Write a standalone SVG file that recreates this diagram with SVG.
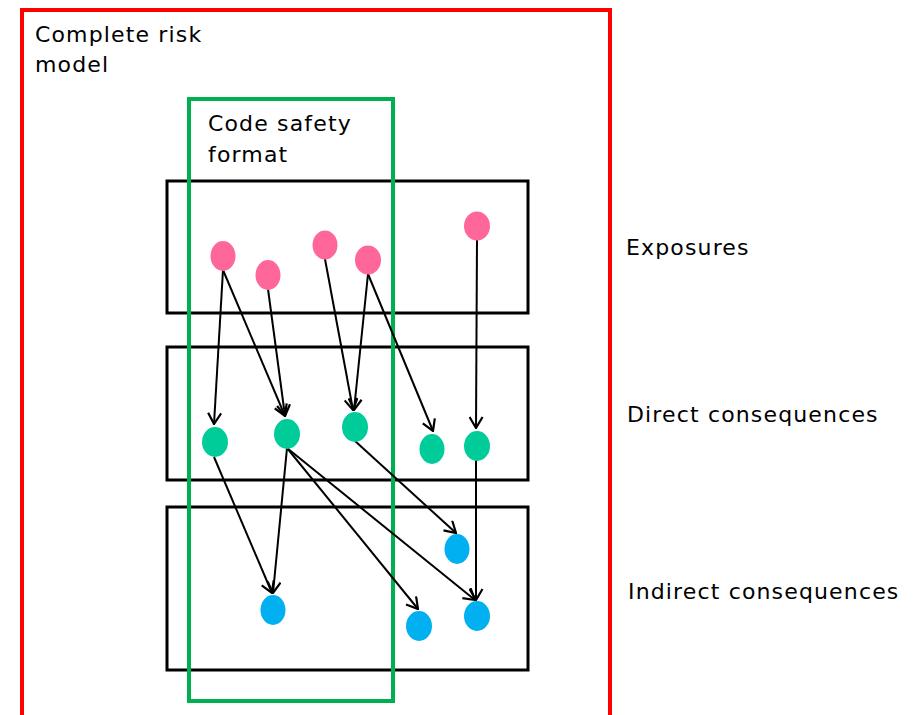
<svg xmlns="http://www.w3.org/2000/svg" width="916" height="715" viewBox="0 0 916 715">
<style>
.lbl{font-family:"DejaVu Sans",Verdana,sans-serif;font-size:22px;letter-spacing:1.15px;fill:#000}
.layer{fill:none;stroke:#000;stroke-width:3}
.pink{fill:#FF6699}
.green{fill:#00CC99}
.blue{fill:#00B0F0}
.conn line{stroke:#000;stroke-width:2;marker-end:url(#arr)}
</style>
<defs>
<marker id="arr" markerUnits="userSpaceOnUse" viewBox="0 0 13 15" markerWidth="13" markerHeight="15" refX="12" refY="7.5" orient="auto">
<path d="M1,1 L12,7.5 L1,14" fill="none" stroke="#000" stroke-width="2.2"/>
</marker>
</defs>
<rect width="916" height="715" fill="#fff"/>
<g id="complete-risk-model">
<rect x="22" y="10" width="588" height="720" fill="none" stroke="#FF0000" stroke-width="4"/>
<text class="lbl" x="35" y="42">Complete risk</text>
<text class="lbl" x="35" y="72">model</text>
</g>
<g id="layer-exposures">
<rect class="layer" x="167" y="181" width="361" height="132"/>
<text class="lbl" x="626" y="255">Exposures</text>
</g>
<g id="layer-direct">
<rect class="layer" x="167" y="347" width="361" height="133"/>
<text class="lbl" x="627" y="422">Direct consequences</text>
</g>
<g id="layer-indirect">
<rect class="layer" x="167" y="507" width="361" height="163"/>
<text class="lbl" x="628" y="599">Indirect consequences</text>
</g>
<g id="code-safety-format">
<rect x="189" y="99" width="204" height="602" fill="none" stroke="#00B050" stroke-width="4"/>
<text class="lbl" x="208" y="131">Code safety</text>
<text class="lbl" x="208" y="162">format</text>
</g>
<g id="connectors" class="conn">
<line x1="223" y1="270" x2="214" y2="424"/>
<line x1="223" y1="270" x2="285" y2="416"/>
<line x1="268" y1="289" x2="285" y2="416"/>
<line x1="325" y1="259" x2="353" y2="410"/>
<line x1="368" y1="274" x2="354" y2="410"/>
<line x1="368" y1="274" x2="433" y2="431"/>
<line x1="477" y1="240" x2="476" y2="428"/>
<line x1="214" y1="457" x2="272" y2="593"/>
<line x1="287" y1="448" x2="273" y2="593"/>
<line x1="287" y1="448" x2="418" y2="609"/>
<line x1="287" y1="448" x2="475" y2="600"/>
<line x1="355" y1="441" x2="456" y2="533"/>
<line x1="476" y1="460" x2="476" y2="600"/>
</g>
<g id="e1"><ellipse class="pink" cx="223" cy="256" rx="12.5" ry="15"/></g>
<g id="e2"><ellipse class="pink" cx="268" cy="275" rx="12.5" ry="15"/></g>
<g id="e3"><ellipse class="pink" cx="325" cy="245" rx="12.5" ry="14.5"/></g>
<g id="e4"><ellipse class="pink" cx="368" cy="260" rx="13" ry="14.5"/></g>
<g id="e5"><ellipse class="pink" cx="477" cy="226" rx="13" ry="14.5"/></g>
<g id="d1"><ellipse class="green" cx="215" cy="442" rx="13" ry="15"/></g>
<g id="d2"><ellipse class="green" cx="287" cy="434" rx="13" ry="15"/></g>
<g id="d3"><ellipse class="green" cx="355" cy="427" rx="13" ry="15"/></g>
<g id="d4"><ellipse class="green" cx="432" cy="449" rx="12.5" ry="15"/></g>
<g id="d5"><ellipse class="green" cx="477" cy="446" rx="13" ry="15"/></g>
<g id="i1"><ellipse class="blue" cx="273" cy="610" rx="12.5" ry="15"/></g>
<g id="i2"><ellipse class="blue" cx="457" cy="549" rx="12.5" ry="15"/></g>
<g id="i3"><ellipse class="blue" cx="419" cy="626" rx="13" ry="15"/></g>
<g id="i4"><ellipse class="blue" cx="477" cy="616" rx="13" ry="15"/></g>
</svg>
